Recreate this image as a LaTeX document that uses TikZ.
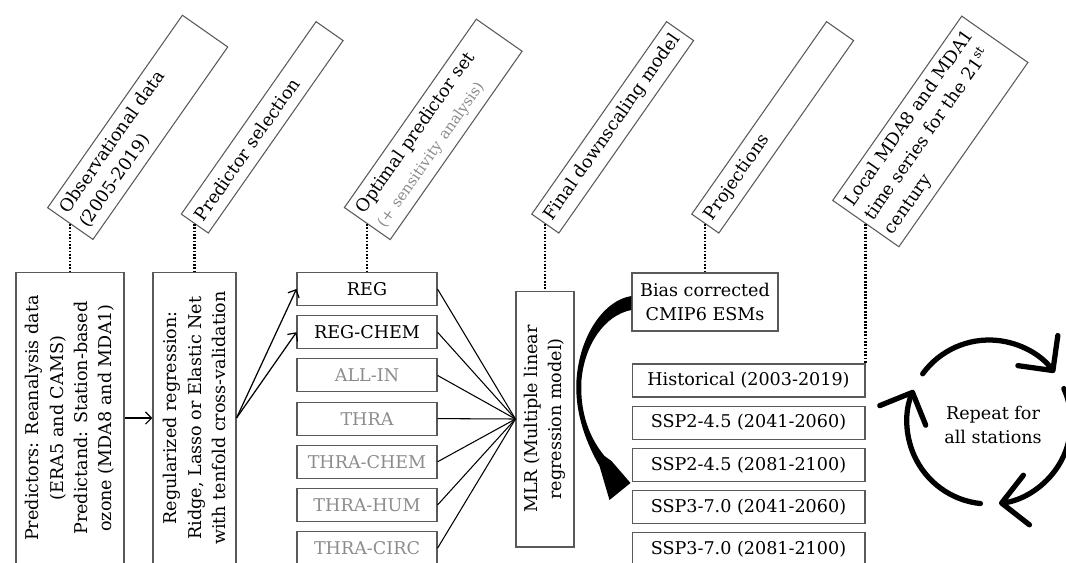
\documentclass[tikz,border=0pt]{standalone}
\usepackage{fontspec}
\setmainfont{DejaVu Serif}
\usetikzlibrary{arrows.meta, calc}
\definecolor{boxgray}{gray}{0.35}
\definecolor{txtgray}{gray}{0.55}
\tikzset{
  box/.style={draw=boxgray, line width=0.6pt, inner sep=2pt, align=center, font=\fontsize{10}{13.8}\selectfont},
  hdr/.style={box, rotate=55, anchor=west, text width=4.46cm, align=left, inner xsep=0.12cm, inner ysep=0.15cm, minimum height=0.66cm},
  vbox/.style={box, rotate=90, minimum width=5.84cm},
  lbox/.style={box, minimum width=2.8cm, minimum height=0.66cm},
  sbox/.style={box, minimum width=4.66cm, minimum height=0.66cm},
  tra/.style={-{Straight Barb[length=3.5pt, width=7pt]}, line width=0.7pt},
  link/.style={line width=0.6pt},
  dotl/.style={line width=1.2pt, dash pattern=on 1pt off 0.9pt},
  cyc/.style={line width=3pt, line cap=round, -{Straight Barb[round, length=0.5cm, width=1cm]}}
}

\begin{document}
\begin{tikzpicture}[x=0.02cm, y=-0.02cm]
  \useasboundingbox (0,0) rectangle (1066,562);
  \coordinate (top) at (0,224);
  % lower row
  \node[vbox, minimum height=2.16cm] (obs) at (70,418) {Predictors: Reanalysis data\\(ERA5 and CAMS)\\Predictand: Station-based\\ozone (MDA8 and MDA1)};
  \node[vbox, minimum height=1.66cm] (sel) at (194.5,418) {Regularized regression:\\Ridge, Lasso or Elastic Net\\with tenfold cross-validation};
  \foreach \nm/\txt/\col [count=\i from 0] in {reg/REG/black, regchem/REG-CHEM/black, allin/ALL-IN/txtgray, thra/THRA/txtgray, thrachem/THRA-CHEM/txtgray, thrahum/THRA-HUM/txtgray, thracirc/THRA-CIRC/txtgray}
    \node[lbox, text=\col] (\nm) at (367,289+43.2*\i) {\txt};
  \node[vbox, minimum width=5.12cm, minimum height=1.16cm] (mlr) at (545,419) {MLR (Multiple linear\\regression model)};
  \node[box, minimum width=2.92cm, minimum height=1.16cm] (bias) at (705,302) {Bias corrected\\CMIP6 ESMs};
  \foreach \nm/\txt [count=\i from 0] in {hist/Historical (2003-2019), sa/SSP2-4.5 (2041-2060), sb/SSP2-4.5 (2081-2100), sc/SSP3-7.0 (2041-2060), sd/SSP3-7.0 (2081-2100)}
    \node[sbox] (\nm) at (748.5,380.5+42.1*\i) {\txt};

  % headers
  \node[hdr] (hobs) at (obs.east |- top) {Observational data\\(2005-2019)};
  \node[hdr] (hsel) at (sel.east |- top) {Predictor selection};
  \node[hdr, text width=4.36cm] (hopt) at (reg.north |- top) {Optimal predictor set\\{\color{txtgray}\fontsize{8.5}{10}\selectfont (+ sensitivity analysis)}};
  \node[hdr] (hfin) at (mlr.east |- top) {Final downscaling model};
  \node[hdr] (hpro) at (bias.north |- top) {Projections};
  \node[hdr, text width=4.26cm] (hloc) at (hist.north east |- top) {Local MDA8 and MDA1\\time series for the 21\textsuperscript{st}\\century};

  \draw[dotl] (hobs.west) -- (obs.east);
  \draw[dotl] (hsel.west) -- (sel.east);
  \draw[dotl] (hopt.west) -- (reg.north);
  \draw[dotl] (hfin.west) -- (mlr.east);
  \draw[dotl] (hpro.west) -- (bias.north);
  \draw[dotl] (hloc.west) -- (hist.north east);

  % connectors
  \draw[tra] (obs.south) -- (sel.north);
  \draw[tra] (sel.south) -- (reg.west);
  \draw[tra] (sel.south) -- (regchem.west);
  \foreach \nm in {reg, regchem, allin, thra, thrachem, thrahum, thracirc}
    \draw[link] (\nm.east) -- (mlr.north);

  % thick curved arrow
  \fill[shift={(bias.west)}] (0,-6) .. controls (-27,-2) and (-52,33) .. (-55,78)
    .. controls (-57,113) and (-44,143) .. (-32,164) -- (-22,198) -- (-1,181) -- (-20,159) -- (-27,154)
    .. controls (-42,136) and (-52,110) .. (-50,78) .. controls (-47,43) and (-27,13) .. (0,8) -- cycle;

  % repeat cycle
  \coordinate (rc) at (989,422);
  \foreach \a in {0,120,240}
    \draw[cyc] (rc) ++({-144+\a}:82) arc[start angle={-144+\a}, end angle={-37+\a}, radius=82];
  \node[font=\fontsize{10}{13.8}\selectfont, align=center] (rep) at (993,425) {Repeat for\\all stations};
\end{tikzpicture}
\end{document}
